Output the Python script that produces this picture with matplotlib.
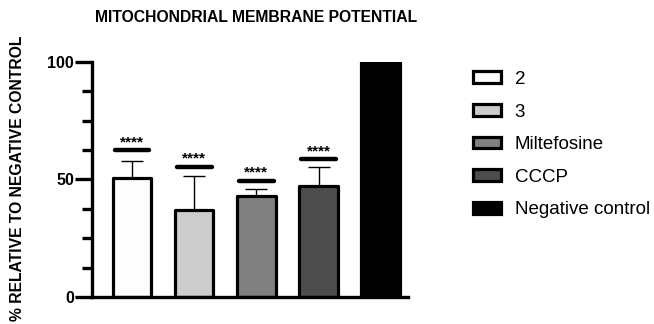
import numpy as np
import matplotlib.pyplot as plt
from matplotlib.patches import Patch

plt.rcParams['font.family'] = ['Liberation Sans', 'DejaVu Sans']

# data
groups = ['2', '3', 'Miltefosine', 'CCCP', 'Negative control']
means = [50.6, 37.0, 43.1, 47.2, 100.0]
sd_up = [7.4, 14.5, 2.7, 8.0, 0.0]
sig_level = [62.5, 55.5, 49.4, 58.6]
sig_text = ['****', '****', '****', '****']
colors = ['#fdfdfd', '#cccccc', '#808080', '#4d4d4d', '#000000']

fig = plt.figure(figsize=(6.54, 3.24), dpi=100)
ax = fig.add_axes([0.141, 0.083, 0.483, 0.726])

x = np.arange(len(groups))
bars = ax.bar(x, means, width=0.62, color=colors, edgecolor='black',
              linewidth=2.3, zorder=2)
for b in bars:
    b.set_joinstyle('round')

# upper error bars only
for i in range(4):
    ax.errorbar(x[i], means[i], yerr=[[0], [sd_up[i]]], fmt='none',
                ecolor='black', elinewidth=1.0, capsize=8, capthick=1.0,
                zorder=1)

# significance bars + stars
for i in range(4):
    ax.plot([x[i] - 0.28, x[i] + 0.28], [sig_level[i], sig_level[i]],
            color='black', lw=3.2, solid_capstyle='round', zorder=3)
    ax.text(x[i], sig_level[i] + 0.4, sig_text[i], ha='center', va='bottom',
            fontsize=11, fontweight='bold')

ax.set_xlim(-0.64, 4.44)
ax.set_ylim(0, 100)
ax.set_yticks([0, 50, 100])
ax.set_yticks(np.arange(0, 101, 12.5), minor=True)
ax.set_yticklabels(['0', '50', '100'], fontsize=11.5, fontweight='bold')
ax.set_xticks([])
ax.tick_params(axis='y', which='major', length=12, width=2.4, pad=1)
ax.tick_params(axis='y', which='minor', length=7, width=2.4)
for s in ['top', 'right']:
    ax.spines[s].set_visible(False)
for s in ['left', 'bottom']:
    ax.spines[s].set_linewidth(2.4)
ax.spines['left'].set_bounds(0, 100)

ax.set_ylabel('% RELATIVE TO NEGATIVE CONTROL', fontsize=11.3,
              fontweight='bold')
ax.yaxis.set_label_coords(-0.212, 0.506)
fig.text(0.392, 0.946, 'MITOCHONDRIAL MEMBRANE POTENTIAL', ha='center',
         va='center', fontsize=11.3, fontweight='bold')

handles = [Patch(facecolor=c, edgecolor='black', linewidth=2.3,
                 joinstyle='round') for c in colors]
fig.legend(handles, groups, loc='upper left', bbox_to_anchor=(0.724, 0.781),
           frameon=False, fontsize=13.5, handlelength=1.45, handleheight=0.6,
           labelspacing=0.83, handletextpad=0.75, borderaxespad=0,
           borderpad=0)

fig.savefig('out.png', dpi=100)
